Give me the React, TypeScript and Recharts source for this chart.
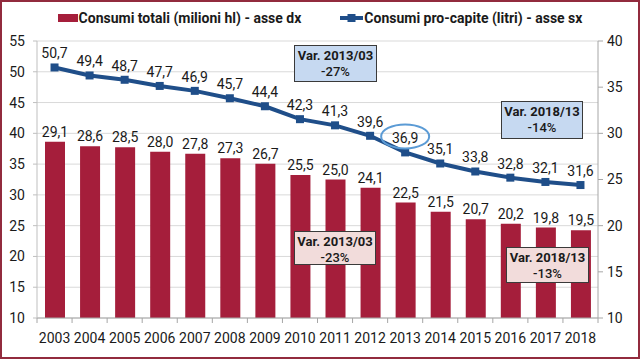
import React from 'react';
import { ComposedChart, Bar, Line, XAxis, YAxis, CartesianGrid, LabelList, ReferenceDot } from 'recharts';

const years = ['2003', '2004', '2005', '2006', '2007', '2008', '2009', '2010', '2011', '2012', '2013', '2014', '2015', '2016', '2017', '2018'];
const totali = [29.1, 28.6, 28.5, 28.0, 27.8, 27.3, 26.7, 25.5, 25.0, 24.1, 22.5, 21.5, 20.7, 20.2, 19.8, 19.5];
const proCapite = [50.7, 49.4, 48.7, 47.7, 46.9, 45.7, 44.4, 42.3, 41.3, 39.6, 36.9, 35.1, 33.8, 32.8, 32.1, 31.6];
const leftTicks = [10, 15, 20, 25, 30, 35, 40, 45, 50, 55];
const rightTicks = [10, 15, 20, 25, 30, 35, 40];

const data = years.map((y, i) => ({ year: y, totali: totali[i], proCapite: proCapite[i] }));

const W = 640;
const H = 359;
const X_H = 30;
const M = { top: 41, right: 0, bottom: 41 - X_H, left: 0 };
const LEFT_W = 37;
const RIGHT_W = 42;
const BAND = (W - LEFT_W - RIGHT_W) / years.length;

const RED = '#a51e3b';
const BLUE = '#1f4e89';
const FONT = 'Roboto, "DejaVu Sans", sans-serif';
const fmt = (v: any) => Number(v).toFixed(1).replace('.', ',');

const XTick = (props: any) => {
  const { x, y, payload, index } = props;
  return (
    <g>
      <line x1={x - BAND / 2} x2={x - BAND / 2} y1={y - 8} y2={y - 3} stroke="#a6a6a6" />
      {index === years.length - 1 && (
        <line x1={x + BAND / 2} x2={x + BAND / 2} y1={y - 8} y2={y - 3} stroke="#a6a6a6" />
      )}
      <text x={x} y={y + 17} textAnchor="middle" fontSize={14} fill="#1a1a1a" fontFamily={FONT}>
        {payload.value}
      </text>
    </g>
  );
};

const LegendBlock = () => (
  <div style={{ position: 'absolute', left: 0, top: 10, width: W, display: 'flex', justifyContent: 'center', gap: 39, fontFamily: FONT, fontWeight: 700, fontSize: 14, lineHeight: '16px', color: '#1a1a1a' }}>
    <div style={{ display: 'flex', alignItems: 'center' }}>
      <span style={{ display: 'inline-block', width: 20, height: 8, background: RED, marginRight: 1 }} />
      Consumi totali (milioni hl) - asse dx
    </div>
    <div style={{ display: 'flex', alignItems: 'center' }}>
      <svg width={23} height={10} style={{ marginRight: 1 }}>
        <line x1={0} x2={23} y1={5} y2={5} stroke={BLUE} strokeWidth={4} />
        <rect x={7.5} y={1} width={8} height={8} fill={BLUE} />
      </svg>
      Consumi pro-capite (litri) - asse sx
    </div>
  </div>
);

const Ellipse = (props: any) => {
  const { cx, cy } = props;
  return <ellipse cx={cx} cy={cy - 16} rx={24} ry={12} fill="none" stroke="#5b9bd5" strokeWidth={2} />;
};

const boxStyle = (left: number, top: number, w: number, h: number, bg: string): React.CSSProperties => ({
  position: 'absolute',
  left,
  top,
  width: w,
  height: h,
  boxSizing: 'border-box',
  background: bg,
  border: '1px solid #3a3a3a',
  fontFamily: FONT,
  fontSize: 13,
  color: '#1a1a1a',
  textAlign: 'center',
  lineHeight: '16px',
  paddingTop: 2,
});

const Note = ({ left, top, w, h, bg, a, b }: any) => (
  <div style={boxStyle(left, top, w, h, bg)}>
    <div style={{ fontWeight: 700 }}>{a}</div>
    <div style={{ fontWeight: 500 }}>{b}</div>
  </div>
);

export default function App() {
  return (
    <div style={{ position: 'absolute', left: 0, top: 0, width: W, height: H, background: '#fff', overflow: 'hidden' }}>
      <ComposedChart width={W} height={H} data={data} margin={M} barCategoryGap={0}>
        <CartesianGrid yAxisId="left" horizontal vertical={false} stroke="#d9d9d9" />
        <XAxis
          dataKey="year"
          height={X_H}
          tick={<XTick />}
          tickLine={false}
          axisLine={{ stroke: '#a6a6a6' }}
          interval={0}
        />
        <YAxis
          yAxisId="left"
          orientation="left"
          width={LEFT_W}
          domain={[10, 55]}
          ticks={leftTicks}
          interval={0}
          tickSize={4}
          tickMargin={8}
          axisLine={{ stroke: '#bfbfbf' }}
          tickLine={{ stroke: '#bfbfbf' }}
          tick={{ fontSize: 14, fill: '#1a1a1a', fontFamily: FONT }}
        />
        <YAxis
          yAxisId="right"
          orientation="right"
          width={RIGHT_W}
          domain={[10, 40]}
          ticks={rightTicks}
          interval={0}
          tickSize={5}
          tickMargin={4}
          axisLine={{ stroke: '#a6a6a6' }}
          tickLine={{ stroke: '#a6a6a6' }}
          tick={{ fontSize: 14, fill: '#1a1a1a', fontFamily: FONT }}
        />
        <Bar yAxisId="right" dataKey="totali" fill={RED} barSize={20} isAnimationActive={false}>
          <LabelList dataKey="totali" position="top" offset={5} formatter={fmt} style={{ fontSize: 14, fill: '#1a1a1a', fontFamily: FONT }} />
        </Bar>
        <Line
          yAxisId="left"
          dataKey="proCapite"
          stroke={BLUE}
          strokeWidth={4}
          dot={(p: any) => <rect key={p.index} x={p.cx - 4} y={p.cy - 4} width={8} height={8} fill={BLUE} />}
          activeDot={false}
          isAnimationActive={false}
        >
          <LabelList dataKey="proCapite" position="top" offset={9} formatter={fmt} style={{ fontSize: 14, fill: '#1a1a1a', fontFamily: FONT }} />
        </Line>
        <ReferenceDot yAxisId="left" x="2013" y={36.9} shape={<Ellipse />} />
      </ComposedChart>
      <LegendBlock />
      <Note left={294} top={45} w={83} h={37} bg="#c6d9f1" a="Var. 2013/03" b="-27%" />
      <Note left={501} top={101} w={82} h={38} bg="#c6d9f1" a="Var. 2018/13" b="-14%" />
      <Note left={294} top={231} w={82} h={34} bg="#f2dcdb" a="Var. 2013/03" b="-23%" />
      <Note left={506} top={247} w={83} h={36} bg="#f2dcdb" a="Var. 2018/13" b="-13%" />
      <div style={{ position: 'absolute', left: 0, top: 0, width: W, height: H, boxSizing: 'border-box', border: '2px solid #922b3e', pointerEvents: 'none' }} />
    </div>
  );
}
